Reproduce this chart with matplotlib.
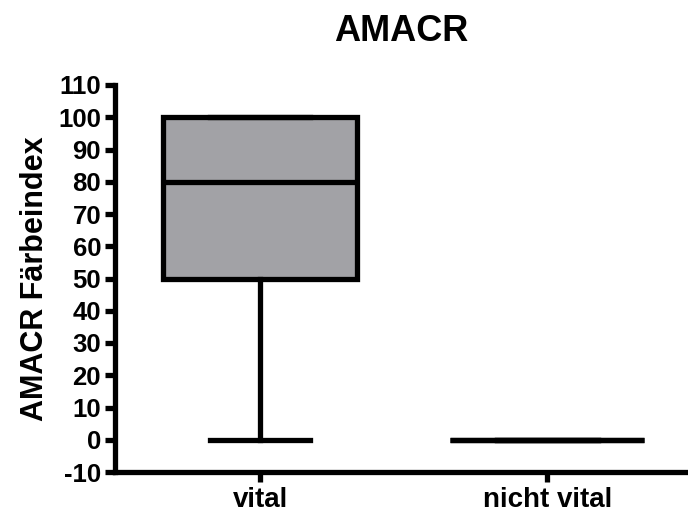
import matplotlib
matplotlib.use("Agg")
import matplotlib.pyplot as plt

plt.rcParams['font.family'] = ['Liberation Sans', 'DejaVu Sans']
plt.rcParams['font.weight'] = 'bold'

groups = ["vital", "nicht vital"]
q1 = [50, 0]
med = [80, 0]
q3 = [100, 0]
whislo = [0, 0]
whishi = [100, 0]
yticks = list(range(-10, 111, 10))

stats = [dict(label=g, q1=a, med=m, q3=b, whislo=lo, whishi=hi, fliers=[])
         for g, a, m, b, lo, hi in zip(groups, q1, med, q3, whislo, whishi)]

fig = plt.figure(figsize=(6.88, 5.16), dpi=100)
ax = fig.add_axes([115/688, 1-472/516, (688-115)/688, (472-85)/516])

lw = 3.8
bp = ax.bxp(stats, positions=[0, 1], widths=0.675, capwidths=[0.35, 0.35],
            patch_artist=True, showfliers=False,
            boxprops=dict(facecolor='#A2A2A6', edgecolor='black', linewidth=lw),
            medianprops=dict(color='black', linewidth=lw),
            whiskerprops=dict(color='black', linewidth=lw),
            capprops=dict(color='black', linewidth=lw))
for box, a, b in zip(bp['boxes'], q1, q3):
    if a == b:
        box.set_facecolor('black')

ax.set_xlim(-0.505, 1.49)
ax.set_ylim(-10, 110)
ax.set_yticks(yticks)
ax.set_yticklabels([str(t) for t in yticks], fontsize=18.5, fontweight='bold')
ax.set_xticks([0, 1])
ax.set_xticklabels(groups, fontsize=20, fontweight='bold')

for s in ['top', 'right']:
    ax.spines[s].set_visible(False)
for s in ['left', 'bottom']:
    ax.spines[s].set_linewidth(lw)
    ax.spines[s].set_color('black')
ax.spines['left'].set_capstyle('projecting')

ax.tick_params(axis='y', width=lw, length=7, pad=3, direction='out')
ax.tick_params(axis='x', width=lw, length=7, pad=4, direction='out')

ax.set_ylabel("AMACR Färbeindex", fontsize=22, fontweight='bold', labelpad=6)
ax.set_title("AMACR", fontsize=26, fontweight='bold', pad=32)

fig.savefig("out.png", dpi=100)
